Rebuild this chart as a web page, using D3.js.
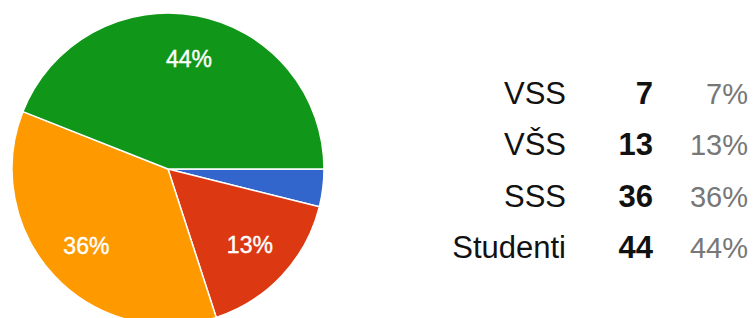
<!DOCTYPE html>
<html><head><meta charset="utf-8">
<script src="https://cdn.jsdelivr.net/npm/d3@7"></script>
<style>html,body{margin:0;padding:0;background:#fff;}svg{display:block;}</style>
</head><body>
<svg id="chart" width="754" height="318"></svg>
<script>
// Data
const categories = ["VSS", "VŠS", "SSS", "Studenti"];
const counts = [7, 13, 36, 44];
const percentLabels = ["7%", "13%", "36%", "44%"];
// slice sizes as drawn in the picture (angles)
const sliceValues = [3.9, 16.1, 36, 44];
const sliceLabels = ["", "13%", "36%", "44%"];
const colors = ["#3366CC", "#DC3912", "#FF9900", "#109618"];

const svg = d3.select("#chart");
const cx = 168, cy = 169, r = 156;

const pie = d3.pie().sort(null).value(d => d)
  .startAngle(Math.PI / 2).endAngle(Math.PI / 2 + 2 * Math.PI);
const arcs = pie(sliceValues);
const arc = d3.arc().innerRadius(0).outerRadius(r);
const labelArc = d3.arc().innerRadius(112).outerRadius(112);

const g = svg.append("g").attr("transform", `translate(${cx},${cy})`);
g.selectAll("path").data(arcs).join("path")
  .attr("d", arc)
  .attr("fill", (d, i) => colors[i])
  .attr("stroke", "#fff").attr("stroke-width", 1.5);

g.selectAll("text").data(arcs).join("text")
  .attr("transform", d => `translate(${labelArc.centroid(d)})`)
  .attr("text-anchor", "middle").attr("dominant-baseline", "central")
  .attr("fill", "#fff")
  .style("font-family", "'Liberation Sans', Arial, sans-serif")
  .style("font-size", "23px")
  .style("stroke", "#fff").style("stroke-width", 0.4)
  .text((d, i) => sliceLabels[i]);

// Table
const y = d3.scalePoint().domain(categories).range([104, 258]);
const font = "'Liberation Sans', Arial, sans-serif";
const rows = svg.append("g");
rows.selectAll("text.cat").data(categories).join("text").attr("class", "cat")
  .attr("x", 566).attr("y", d => y(d))
  .attr("text-anchor", "end")
  .style("font-family", font).style("font-size", "31px").attr("fill", "#111")
  .text(d => d);
rows.selectAll("text.cnt").data(categories).join("text").attr("class", "cnt")
  .attr("x", 653).attr("y", d => y(d))
  .attr("text-anchor", "end")
  .style("font-family", font).style("font-size", "31px").style("font-weight", "bold").attr("fill", "#111")
  .text((d, i) => counts[i]);
rows.selectAll("text.pct").data(categories).join("text").attr("class", "pct")
  .attr("x", 748).attr("y", d => y(d))
  .attr("text-anchor", "end")
  .style("font-family", font).style("font-size", "29px").attr("fill", "#777")
  .text((d, i) => percentLabels[i]);
</script>
</body></html>
